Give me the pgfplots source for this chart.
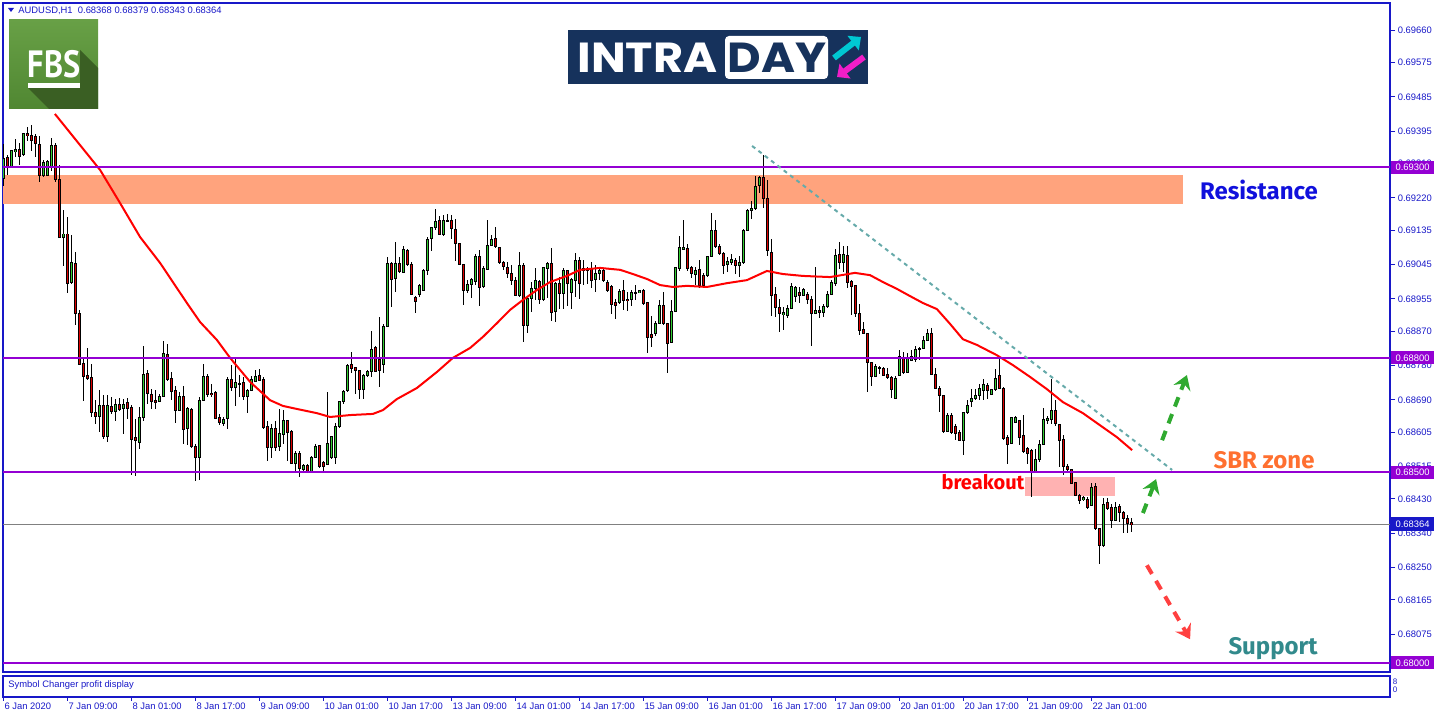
\documentclass[border=0pt]{standalone}
\usepackage{pgfplots}
\pgfplotsset{compat=1.18}
\usepackage{pgfplotstable}
\usepackage{fontspec}
\setmainfont{Liberation Sans}
\newfontfamily\labfont{Fira Sans}
\newfontfamily\popfont{Poppins}
\newfontfamily\ptfont{PT Sans}
\usetikzlibrary{arrows.meta}

\definecolor{mtblue}{RGB}{24,24,200}
\definecolor{lvl}{RGB}{148,0,211}
\definecolor{bull}{RGB}{50,205,50}
\definecolor{bear}{RGB}{220,0,0}
\definecolor{zone}{RGB}{255,163,125}
\definecolor{pinkz}{RGB}{255,178,178}
\definecolor{trend}{RGB}{102,170,170}
\definecolor{arrgreen}{RGB}{48,170,48}
\definecolor{arrred}{RGB}{255,64,64}
\definecolor{resblue}{RGB}{16,16,220}
\definecolor{sbr}{RGB}{255,112,48}
\definecolor{supp}{RGB}{50,138,140}
\definecolor{navy}{RGB}{22,50,92}
\definecolor{fbsA}{RGB}{104,160,70}
\definecolor{fbsB}{RGB}{80,135,50}
\definecolor{fbsS}{RGB}{58,95,35}
\definecolor{logocyan}{RGB}{0,200,210}
\definecolor{logomag}{RGB}{240,30,200}

\newcommand{\tf}{\fontsize{4.7}{5}\selectfont}

% H1 candles, k = bar number from the left edge
\pgfplotstableread{
k o h l c
0 0.69271 0.69363 0.69253 0.69323
1 0.69326 0.69332 0.69279 0.69301
2 0.69301 0.69347 0.69300 0.69345
3 0.69343 0.69376 0.69328 0.69347
4 0.69347 0.69363 0.69306 0.69329
5 0.69334 0.69391 0.69332 0.69389
6 0.69389 0.69408 0.69370 0.69384
7 0.69384 0.69411 0.69343 0.69373
8 0.69382 0.69389 0.69328 0.69363
9 0.69361 0.69384 0.69262 0.69279
10 0.69279 0.69319 0.69275 0.69314
11 0.69279 0.69319 0.69278 0.69316
12 0.69301 0.69378 0.69293 0.69358
13 0.69358 0.69363 0.69262 0.69268
14 0.69268 0.69306 0.69113 0.69116
15 0.69118 0.69189 0.69041 0.69126
16 0.69125 0.69170 0.68973 0.68995
17 0.68997 0.69122 0.68995 0.69050
18 0.69050 0.69078 0.68886 0.68919
19 0.68919 0.68925 0.68783 0.68785
20 0.68785 0.68798 0.68689 0.68753
21 0.68754 0.68827 0.68741 0.68747
22 0.68750 0.68785 0.68645 0.68658
23 0.68658 0.68689 0.68628 0.68648
24 0.68648 0.68715 0.68606 0.68677
25 0.68676 0.68702 0.68588 0.68593
26 0.68593 0.68702 0.68579 0.68676
27 0.68673 0.68698 0.68654 0.68661
28 0.68661 0.68693 0.68636 0.68680
29 0.68678 0.68696 0.68663 0.68665
30 0.68669 0.68693 0.68601 0.68678
31 0.68683 0.68696 0.68641 0.68667
32 0.68671 0.68676 0.68492 0.68586
33 0.68591 0.68641 0.68492 0.68584
34 0.68579 0.68671 0.68562 0.68645
35 0.68645 0.68831 0.68636 0.68756
36 0.68759 0.68769 0.68680 0.68706
37 0.68704 0.68719 0.68665 0.68686
38 0.68689 0.68717 0.68667 0.68684
39 0.68686 0.68706 0.68684 0.68699
40 0.68699 0.68846 0.68698 0.68811
41 0.68811 0.68838 0.68741 0.68746
42 0.68746 0.68763 0.68689 0.68712
43 0.68715 0.68726 0.68629 0.68663
44 0.68663 0.68711 0.68661 0.68699
45 0.68699 0.68726 0.68575 0.68614
46 0.68614 0.68673 0.68573 0.68667
47 0.68664 0.68671 0.68566 0.68568
48 0.68568 0.68575 0.68479 0.68540
49 0.68540 0.68698 0.68479 0.68689
50 0.68689 0.68785 0.68687 0.68752
51 0.68752 0.68759 0.68698 0.68705
52 0.68708 0.68733 0.68698 0.68705
53 0.68709 0.68713 0.68641 0.68643
54 0.68643 0.68654 0.68626 0.68632
55 0.68628 0.68645 0.68621 0.68639
56 0.68641 0.68750 0.68614 0.68744
57 0.68744 0.68781 0.68713 0.68724
58 0.68724 0.68798 0.68676 0.68735
59 0.68732 0.68754 0.68698 0.68733
60 0.68735 0.68750 0.68689 0.68698
61 0.68698 0.68719 0.68656 0.68715
62 0.68715 0.68752 0.68713 0.68745
63 0.68740 0.68769 0.68737 0.68752
64 0.68754 0.68772 0.68739 0.68741
65 0.68744 0.68750 0.68614 0.68617
66 0.68621 0.68636 0.68531 0.68566
67 0.68566 0.68628 0.68537 0.68616
68 0.68614 0.68636 0.68558 0.68566
69 0.68568 0.68667 0.68556 0.68601
70 0.68601 0.68663 0.68575 0.68636
71 0.68636 0.68638 0.68530 0.68606
72 0.68607 0.68610 0.68524 0.68524
73 0.68524 0.68558 0.68498 0.68549
74 0.68549 0.68556 0.68489 0.68509
75 0.68509 0.68523 0.68498 0.68518
76 0.68518 0.68521 0.68500 0.68502
77 0.68502 0.68544 0.68501 0.68540
78 0.68540 0.68575 0.68538 0.68568
79 0.68570 0.68573 0.68512 0.68516
80 0.68527 0.68531 0.68505 0.68516
81 0.68522 0.68711 0.68521 0.68577
82 0.68538 0.68597 0.68536 0.68593
83 0.68538 0.68628 0.68521 0.68621
84 0.68621 0.68689 0.68617 0.68686
85 0.68686 0.68715 0.68680 0.68712
86 0.68715 0.68785 0.68711 0.68781
87 0.68783 0.68816 0.68761 0.68774
88 0.68775 0.68778 0.68706 0.68768
89 0.68768 0.68769 0.68693 0.68717
90 0.68717 0.68759 0.68693 0.68754
91 0.68754 0.68769 0.68750 0.68766
92 0.68766 0.68871 0.68750 0.68824
93 0.68827 0.68831 0.68763 0.68766
94 0.68798 0.68909 0.68724 0.68768
95 0.68783 0.68890 0.68761 0.68883
96 0.68883 0.69065 0.68881 0.69049
97 0.69049 0.69052 0.68934 0.69006
98 0.69008 0.69104 0.68973 0.69049
99 0.69049 0.69065 0.69023 0.69026
100 0.69026 0.69096 0.69023 0.69087
101 0.69084 0.69087 0.69042 0.69046
102 0.69046 0.69052 0.68964 0.68966
103 0.68960 0.68964 0.68918 0.68950
104 0.68966 0.68995 0.68960 0.68990
105 0.68979 0.69034 0.68978 0.69030
106 0.69030 0.69118 0.69017 0.69113
107 0.69113 0.69146 0.69083 0.69141
108 0.69141 0.69192 0.69137 0.69159
109 0.69161 0.69172 0.69122 0.69124
110 0.69124 0.69177 0.69122 0.69161
111 0.69159 0.69177 0.69157 0.69161
112 0.69161 0.69177 0.69113 0.69139
113 0.69137 0.69166 0.69055 0.69100
114 0.69100 0.69102 0.69043 0.69046
115 0.69046 0.69048 0.68940 0.68978
116 0.68978 0.69004 0.68969 0.68993
117 0.68993 0.69011 0.68958 0.69006
118 0.69002 0.69074 0.68992 0.69067
119 0.69067 0.69084 0.68936 0.68986
120 0.68986 0.69041 0.68985 0.69034
121 0.69034 0.69161 0.69032 0.69096
122 0.69096 0.69122 0.69093 0.69111
123 0.69113 0.69144 0.69090 0.69093
124 0.69090 0.69091 0.69048 0.69050
125 0.69050 0.69056 0.69032 0.69039
126 0.69039 0.69052 0.69011 0.69023
127 0.69021 0.69043 0.68991 0.69004
128 0.69004 0.69011 0.68962 0.68964
129 0.68964 0.69078 0.68962 0.69043
130 0.69043 0.69049 0.68842 0.68886
131 0.68886 0.68960 0.68866 0.68956
132 0.68956 0.69000 0.68921 0.68982
133 0.68982 0.69037 0.68953 0.69004
134 0.69002 0.69004 0.68943 0.68953
135 0.68953 0.69037 0.68951 0.69037
136 0.69037 0.69052 0.68958 0.69048
137 0.69048 0.69090 0.68897 0.68921
138 0.68921 0.69000 0.68895 0.68995
139 0.68995 0.69013 0.68930 0.68971
140 0.68971 0.69035 0.68930 0.69032
141 0.69029 0.69032 0.68936 0.68997
142 0.68973 0.69011 0.68930 0.69006
143 0.69004 0.69076 0.68960 0.69057
144 0.69057 0.69065 0.68956 0.68995
145 0.69035 0.69057 0.68991 0.69030
146 0.69032 0.69039 0.68995 0.69035
147 0.69032 0.69052 0.68985 0.69002
148 0.69006 0.69043 0.68973 0.69023
149 0.69023 0.69035 0.69004 0.69029
150 0.69029 0.69035 0.68999 0.69002
151 0.68997 0.69004 0.68973 0.68978
152 0.68988 0.68991 0.68917 0.68941
153 0.68947 0.68956 0.68903 0.68938
154 0.68947 0.68982 0.68943 0.68976
155 0.68978 0.69004 0.68925 0.68950
156 0.68953 0.68973 0.68925 0.68950
157 0.68953 0.68978 0.68936 0.68973
158 0.68971 0.68991 0.68952 0.68973
159 0.68973 0.68980 0.68971 0.68978
160 0.68976 0.68982 0.68941 0.68943
161 0.68947 0.68947 0.68813 0.68855
162 0.68864 0.68912 0.68829 0.68855
163 0.68864 0.68899 0.68860 0.68892
164 0.68890 0.68952 0.68889 0.68938
165 0.68938 0.68973 0.68886 0.68890
166 0.68890 0.68892 0.68763 0.68840
167 0.68840 0.68952 0.68838 0.68923
168 0.68923 0.69039 0.68921 0.69037
169 0.69035 0.69122 0.69030 0.69090
170 0.69085 0.69162 0.69083 0.69090
171 0.69087 0.69100 0.69030 0.69036
172 0.69039 0.69043 0.69011 0.69022
173 0.69020 0.69039 0.68991 0.69030
174 0.69032 0.69057 0.68985 0.68991
175 0.69017 0.69022 0.68988 0.68991
176 0.69017 0.69070 0.69015 0.69067
177 0.69067 0.69181 0.69065 0.69135
178 0.69135 0.69162 0.69090 0.69092
179 0.69092 0.69100 0.69070 0.69076
180 0.69076 0.69078 0.69020 0.69043
181 0.69046 0.69065 0.69026 0.69055
182 0.69050 0.69072 0.69043 0.69058
183 0.69058 0.69064 0.69020 0.69043
184 0.69043 0.69067 0.69013 0.69050
185 0.69050 0.69140 0.69048 0.69135
186 0.69135 0.69192 0.69134 0.69188
187 0.69188 0.69213 0.69164 0.69193
188 0.69193 0.69278 0.69188 0.69251
189 0.69254 0.69278 0.69234 0.69274
190 0.69274 0.69333 0.69193 0.69219
191 0.69219 0.69267 0.69068 0.69082
192 0.69077 0.69114 0.68910 0.68965
193 0.68968 0.68987 0.68908 0.68933
194 0.68933 0.68956 0.68869 0.68917
195 0.68915 0.68933 0.68873 0.68919
196 0.68910 0.68939 0.68904 0.68930
197 0.68930 0.68998 0.68928 0.68987
198 0.68963 0.68989 0.68948 0.68985
199 0.68971 0.68987 0.68945 0.68963
200 0.68965 0.68983 0.68963 0.68980
201 0.68968 0.68974 0.68943 0.68954
202 0.68954 0.68963 0.68831 0.68917
203 0.68917 0.69040 0.68915 0.68926
204 0.68926 0.68935 0.68904 0.68919
205 0.68919 0.68943 0.68908 0.68935
206 0.68935 0.68977 0.68933 0.68968
207 0.68968 0.69005 0.68965 0.68998
208 0.68996 0.69088 0.68991 0.69070
209 0.69073 0.69105 0.69035 0.69050
210 0.69050 0.69094 0.69026 0.69070
211 0.69070 0.69094 0.68983 0.69000
212 0.69000 0.69005 0.68913 0.68987
213 0.68989 0.68991 0.68908 0.68917
214 0.68917 0.68943 0.68860 0.68873
215 0.68876 0.68895 0.68865 0.68865
216 0.68865 0.68866 0.68711 0.68788
217 0.68788 0.68790 0.68726 0.68752
218 0.68752 0.68784 0.68751 0.68777
219 0.68772 0.68781 0.68758 0.68774
220 0.68773 0.68777 0.68752 0.68755
221 0.68758 0.68773 0.68746 0.68751
222 0.68749 0.68753 0.68694 0.68718
223 0.68694 0.68753 0.68693 0.68746
224 0.68754 0.68821 0.68753 0.68805
225 0.68803 0.68816 0.68760 0.68764
226 0.68764 0.68814 0.68761 0.68803
227 0.68795 0.68821 0.68793 0.68805
228 0.68795 0.68830 0.68790 0.68821
229 0.68823 0.68830 0.68795 0.68825
230 0.68825 0.68858 0.68823 0.68847
231 0.68847 0.68875 0.68845 0.68865
232 0.68865 0.68878 0.68755 0.68758
233 0.68758 0.68773 0.68718 0.68720
234 0.68720 0.68725 0.68659 0.68703
235 0.68701 0.68703 0.68604 0.68608
236 0.68608 0.68655 0.68604 0.68650
237 0.68650 0.68655 0.68602 0.68604
238 0.68620 0.68628 0.68585 0.68602
239 0.68605 0.68611 0.68585 0.68586
240 0.68586 0.68659 0.68545 0.68657
241 0.68657 0.68691 0.68655 0.68676
242 0.68685 0.68720 0.68672 0.68694
243 0.68694 0.68720 0.68690 0.68703
244 0.68703 0.68733 0.68690 0.68720
245 0.68716 0.68746 0.68691 0.68732
246 0.68729 0.68733 0.68691 0.68714
247 0.68705 0.68720 0.68703 0.68718
248 0.68718 0.68773 0.68714 0.68746
249 0.68755 0.68799 0.68718 0.68720
250 0.68720 0.68723 0.68586 0.68589
251 0.68593 0.68598 0.68522 0.68574
252 0.68576 0.68646 0.68574 0.68644
253 0.68633 0.68648 0.68630 0.68644
254 0.68637 0.68639 0.68574 0.68593
255 0.68595 0.68650 0.68551 0.68554
256 0.68563 0.68567 0.68523 0.68551
257 0.68558 0.68560 0.68434 0.68501
258 0.68501 0.68563 0.68499 0.68534
259 0.68534 0.68585 0.68528 0.68574
260 0.68574 0.68668 0.68571 0.68639
261 0.68637 0.68648 0.68627 0.68641
262 0.68639 0.68746 0.68628 0.68663
263 0.68663 0.68690 0.68621 0.68627
264 0.68627 0.68628 0.68515 0.68586
265 0.68586 0.68598 0.68493 0.68516
266 0.68516 0.68522 0.68504 0.68508
267 0.68508 0.68510 0.68471 0.68473
268 0.68473 0.68475 0.68436 0.68440
269 0.68440 0.68445 0.68417 0.68427
270 0.68429 0.68438 0.68427 0.68434
271 0.68429 0.68436 0.68405 0.68408
272 0.68414 0.68473 0.68411 0.68462
273 0.68462 0.68473 0.68350 0.68353
274 0.68353 0.68355 0.68261 0.68309
275 0.68309 0.68434 0.68306 0.68418
276 0.68421 0.68434 0.68401 0.68405
277 0.68410 0.68418 0.68353 0.68375
278 0.68375 0.68423 0.68373 0.68410
279 0.68411 0.68417 0.68370 0.68396
280 0.68396 0.68399 0.68340 0.68379
281 0.68379 0.68388 0.68340 0.68366
282 0.68368 0.68379 0.68343 0.68364
}\candles

% moving average (red line)
\pgfplotstableread{
k p
12.9 0.69440
24.2 0.69293
29.2 0.69206
34.2 0.69117
39.2 0.69049
45.9 0.68944
49.2 0.68894
53.4 0.68847
56.7 0.68800
61.7 0.68737
66.7 0.68689
69.9 0.68674
73.4 0.68666
78.4 0.68655
81.7 0.68645
86.7 0.68650
92.4 0.68653
94.9 0.68663
98.4 0.68692
103.4 0.68721
108.4 0.68763
112.4 0.68800
116.7 0.68826
119.9 0.68855
123.4 0.68891
126.7 0.68926
129.9 0.68952
133.4 0.68978
136.7 0.68999
140.9 0.69015
144.2 0.69031
149.2 0.69036
154.2 0.69031
157.4 0.69020
160.9 0.69007
164.2 0.68991
167.4 0.68986
170.9 0.68989
175.9 0.68986
180.9 0.68996
185.9 0.69004
190.9 0.69028
194.9 0.69020
199.9 0.69015
206.7 0.69012
212.9 0.69023
216.7 0.69017
219.9 0.68999
223.4 0.68981
226.7 0.68962
229.9 0.68944
233.4 0.68928
236.7 0.68889
239.9 0.68849
243.4 0.68834
248.4 0.68807
252.4 0.68781
256.7 0.68750
260.9 0.68718
264.9 0.68684
269.9 0.68655
273.4 0.68629
278.4 0.68592
282.2 0.68558
}\ma

\begin{document}
\begin{tikzpicture}
\path[use as bounding box] (0,0) rectangle (718pt,-358pt);

\begin{axis}[name=main, at={(1.5pt,-1.5pt)}, anchor=north west, scale only axis,
  width=693.5pt, height=334.5pt,
  xmin=-0.075, xmax=346.675, ymin=0.67976, ymax=0.69731,
  xtick=\empty, scaled y ticks=false,
  ytick={0.6966,0.69575,0.69485,0.69395,0.6931,0.6922,0.69135,0.69045,0.68955,0.6887,0.6878,0.6869,0.68605,0.68515,0.6843,0.6834,0.6825,0.68165,0.68075,0.6799},
  yticklabels={0.69660,0.69575,0.69485,0.69395,0.69310,0.69220,0.69135,0.69045,0.68955,0.68870,0.68780,0.68690,0.68605,0.68515,0.68430,0.68340,0.68250,0.68165,0.68075,0.67990},
  ytick pos=right, yticklabel pos=right, tick align=outside, major tick length=2.5pt,
  every tick/.style={mtblue, line width=0.5pt},
  axis line style={mtblue, line width=0.6pt},
  yticklabel style={font=\tf, text=mtblue, inner xsep=1.2pt},
  clip mode=individual]

\fill[zone] (axis cs:-0.075,0.69280) rectangle (axis cs:294.9,0.69204);
\fill[pinkz] (axis cs:255.4,0.68487) rectangle (axis cs:277.9,0.68437);
\addplot[gray, line width=0.5pt] coordinates {(-0.075,0.68364) (346.675,0.68364)};

% wicks
\addplot[draw=none, error bars/.cd, y dir=both, y explicit, error mark=none,
  error bar style={black, line width=0.5pt}]
  table[x=k, y expr={(\thisrow{h}+\thisrow{l})/2}, y error expr={(\thisrow{h}-\thisrow{l})/2}] {\candles};
% body outlines
\addplot[draw=none, error bars/.cd, y dir=both, y explicit, error mark=none,
  error bar style={black, line width=1.65pt}]
  table[x=k, y expr={(\thisrow{o}+\thisrow{c})/2}, y error expr={abs(\thisrow{c}-\thisrow{o})/2+0.000013}] {\candles};
% bull bodies
\addplot[draw=none, restrict expr to domain={\thisrow{c}-\thisrow{o}}{0:1},
  error bars/.cd, y dir=both, y explicit, error mark=none,
  error bar style={bull, line width=0.75pt}]
  table[x=k, y expr={(\thisrow{o}+\thisrow{c})/2}, y error expr={max(abs(\thisrow{c}-\thisrow{o})/2-0.000013,0)}] {\candles};
% bear bodies
\addplot[draw=none, restrict expr to domain={\thisrow{c}-\thisrow{o}}{-1:0},
  error bars/.cd, y dir=both, y explicit, error mark=none,
  error bar style={bear, line width=0.75pt}]
  table[x=k, y expr={(\thisrow{o}+\thisrow{c})/2}, y error expr={max(abs(\thisrow{c}-\thisrow{o})/2-0.000013,0)}] {\candles};

\addplot[red, line width=1pt] table[x=k, y=p] {\ma};

\addplot[lvl, line width=1pt] coordinates {(-0.075,0.693) (346.675,0.693)};
\addplot[lvl, line width=1pt] coordinates {(-0.075,0.688) (346.675,0.688)};
\addplot[lvl, line width=1pt] coordinates {(-0.075,0.685) (346.675,0.685)};
\addplot[lvl, line width=1pt] coordinates {(-0.075,0.680) (346.675,0.680)};

\addplot[trend, line width=1pt, dash pattern=on 2pt off 2pt] coordinates {(187.2,0.69356) (292.2,0.68506)};

\draw[arrgreen, line width=2pt, dash pattern=on 5pt off 4pt, -{Stealth[length=7pt,width=9pt,inset=2.5pt]}]
  (axis cs:289.7,0.68584) -- (axis cs:295.9,0.68755);
\draw[arrgreen, line width=2pt, dash pattern=on 5pt off 4pt, -{Stealth[length=7pt,width=9pt,inset=2.5pt]}]
  (axis cs:284.9,0.68393) -- (axis cs:288.2,0.68482);
\draw[arrred, line width=2pt, dash pattern=on 5pt off 4pt, -{Stealth[length=7pt,width=9pt,inset=2.5pt]}]
  (axis cs:285.9,0.68256) -- (axis cs:296.7,0.68062);

\coordinate (L1) at (axis cs:346.675,0.693);
\coordinate (L2) at (axis cs:346.675,0.688);
\coordinate (L3) at (axis cs:346.675,0.685);
\coordinate (L4) at (axis cs:346.675,0.68364);
\coordinate (L5) at (axis cs:346.675,0.680);
\end{axis}

\begin{axis}[name=sub, at={(1.5pt,-338pt)}, anchor=north west, scale only axis,
  width=693.5pt, height=10.5pt,
  xmin=-0.075, xmax=346.675, ymin=0, ymax=1, ytick=\empty,
  xtick={0,16,...,272},
  xticklabels={6 Jan 2020,7 Jan 09:00,8 Jan 01:00,8 Jan 17:00,9 Jan 09:00,10 Jan 01:00,10 Jan 17:00,13 Jan 09:00,14 Jan 01:00,14 Jan 17:00,15 Jan 09:00,16 Jan 01:00,16 Jan 17:00,17 Jan 09:00,20 Jan 01:00,20 Jan 17:00,21 Jan 09:00,22 Jan 01:00},
  xtick pos=left, xticklabel pos=left, tick align=outside, major tick length=2pt,
  every tick/.style={mtblue, line width=0.5pt},
  axis line style={mtblue, line width=0.6pt},
  xticklabel style={anchor=north west, font=\tf, text=mtblue, inner sep=0pt, yshift=-1pt, xshift=0.4pt}]
\end{axis}

\foreach \L/\v/\col in {L1/0.69300/lvl, L2/0.68800/lvl, L3/0.68500/lvl, L4/0.68364/mtblue, L5/0.68000/lvl}
  \node[fill=\col, text=white, font=\tf, anchor=west, inner sep=0pt, minimum width=21.5pt, minimum height=6.6pt, xshift=0.3pt] at (\L) {\v};

\begin{scope}[x=0.5pt, y=-0.5pt]
% header
\fill[mtblue] (8,8) -- (14,8) -- (11,12) -- cycle;
\node[anchor=west, text=mtblue, font=\tf, inner sep=0pt] at (18,10.5) {AUDUSD,H1\ \ 0.68368 0.68379 0.68343 0.68364};
\node[anchor=west, text=mtblue, font=\tf, inner sep=0pt] at (8,685) {Symbol Changer profit display};
\node[text=mtblue, font=\fontsize{4}{4}\selectfont, inner sep=0pt] at (1395,682) {8};
\node[text=mtblue, font=\fontsize{4}{4}\selectfont, inner sep=0pt] at (1395,690) {0};

% FBS logo
\shade[top color=fbsA, bottom color=fbsB] (9,20) rectangle (98,109);
\fill[fbsS] (28,88) -- (80,88) -- (80,50) -- (98,68) -- (98,109) -- (49,109) -- cycle;
\node[text=white, font={\ptfont\bfseries\fontsize{19pt}{19pt}\selectfont}, xscale=0.85, inner sep=0pt] at (54,64) {FBS};
\fill[white] (28,83) rectangle (80,88);

% INTRADAY logo
\fill[navy] (568,30) rectangle (868,84);
\node[anchor=west, text=white, font={\popfont\bfseries\fontsize{21pt}{21pt}\selectfont}, xscale=1.1, inner sep=0pt] at (577,58) {INTRA};
\fill[white, rounded corners=2pt] (725,36) rectangle (828,79);
\node[text=navy, font={\popfont\bfseries\fontsize{21pt}{21pt}\selectfont}, xscale=1.1, inner sep=0pt] at (777,58) {DAY};
\draw[logocyan, line width=3pt, -{Triangle[length=5pt,width=9pt]}] (834,58) -- (861,37);
\draw[logomag, line width=3pt, -{Triangle[length=5pt,width=9pt]}] (864,57) -- (837,77);

% labels
\node[text=resblue, font={\labfont\bfseries\fontsize{12pt}{12pt}\selectfont}, inner sep=0pt] at (1259,190) {Resistance};
\node[text=sbr, font={\labfont\bfseries\fontsize{12pt}{12pt}\selectfont}, inner sep=0pt] at (1264,460) {SBR zone};
\node[text=supp, font={\labfont\bfseries\fontsize{12pt}{12pt}\selectfont}, inner sep=0pt] at (1273,649) {Support};
\node[text=red, font={\labfont\bfseries\fontsize{10pt}{10pt}\selectfont}, inner sep=0pt] at (983,482) {breakout};
\end{scope}
\end{tikzpicture}
\end{document}
